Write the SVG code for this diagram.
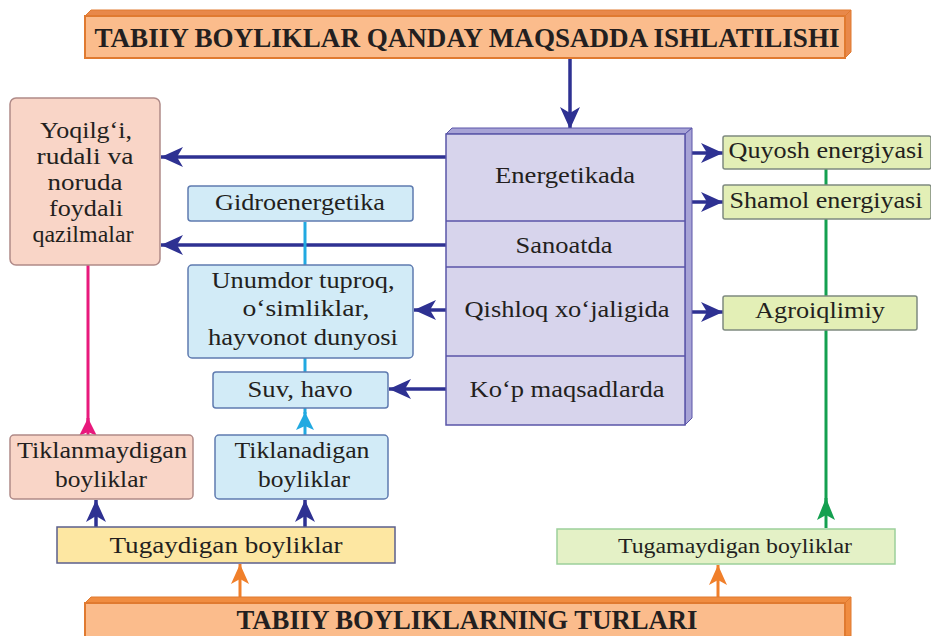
<svg xmlns="http://www.w3.org/2000/svg" width="931" height="636" viewBox="0 0 931 636">
<defs>
<style>
text{font-family:"Liberation Serif","Times New Roman",serif;fill:#231f20;text-anchor:middle;font-size:23px}
.s{font-size:20px}
.h{font-size:28px;font-weight:bold}
.pink{fill:#f9d5c7;stroke:#b08a88;stroke-width:1.5}
.blue{fill:#d2ebf7;stroke:#5f7bb0;stroke-width:1.5}
.green{fill:#e3efb6;stroke:#7f8a80;stroke-width:1.5}
.lg{fill:#e4f1c6;stroke:#9ccf9a;stroke-width:1.5}
.yel{fill:#fde7a2;stroke:#5b5f8c;stroke-width:1.5}
.pur{fill:#d7d4ec;stroke:#5a55a8;stroke-width:1.5}
.ora{fill:#fbbc8c;stroke:#e07a30;stroke-width:2}
.nav{stroke:#2e3192;stroke-width:3.5;fill:none}
</style>
<marker id="an" markerUnits="userSpaceOnUse" markerWidth="22" markerHeight="20" refX="22" refY="10" orient="auto"><path d="M0,0 L22,10 L0,20 L6,10 Z" fill="#2e3192"/></marker>
<marker id="ao" markerUnits="userSpaceOnUse" markerWidth="20" markerHeight="18" refX="20" refY="9" orient="auto"><path d="M0,0 L20,9 L0,18 L5,9 Z" fill="#f07f2a"/></marker>
<marker id="ag" markerUnits="userSpaceOnUse" markerWidth="22" markerHeight="18" refX="22" refY="9" orient="auto"><path d="M0,0 L22,9 L0,18 L5,9 Z" fill="#14a050"/></marker>
<marker id="am" markerUnits="userSpaceOnUse" markerWidth="18" markerHeight="18" refX="18" refY="9" orient="auto"><path d="M0,0 L18,9 L0,18 L4,9 Z" fill="#e8197c"/></marker>
<marker id="ac" markerUnits="userSpaceOnUse" markerWidth="18" markerHeight="18" refX="18" refY="9" orient="auto"><path d="M0,0 L18,9 L0,18 L4,9 Z" fill="#21a9e1"/></marker>
</defs>

<g id="connectors">
<line x1="570" y1="58" x2="570" y2="129" class="nav" marker-end="url(#an)"/>
<line x1="446" y1="157" x2="161" y2="157" class="nav" marker-end="url(#an)"/>
<line x1="446" y1="245" x2="161" y2="245" class="nav" marker-end="url(#an)"/>
<line x1="446" y1="310" x2="414" y2="310" class="nav" marker-end="url(#an)"/>
<line x1="446" y1="389" x2="389" y2="389" class="nav" marker-end="url(#an)"/>
<line x1="690" y1="153" x2="723" y2="153" class="nav" marker-end="url(#an)"/>
<line x1="690" y1="202" x2="723" y2="202" class="nav" marker-end="url(#an)"/>
<line x1="690" y1="312" x2="723" y2="312" class="nav" marker-end="url(#an)"/>
<line x1="96" y1="527" x2="96" y2="500" class="nav" marker-end="url(#an)"/>
<line x1="305" y1="527" x2="305" y2="500" class="nav" marker-end="url(#an)"/>
<line x1="305" y1="222" x2="305" y2="265" stroke="#21a9e1" stroke-width="3"/>
<line x1="305" y1="358" x2="305" y2="372" stroke="#21a9e1" stroke-width="3"/>
<line x1="305" y1="435" x2="305" y2="412" stroke="#21a9e1" stroke-width="3" marker-end="url(#ac)"/>
<line x1="305" y1="414" x2="305" y2="408" stroke="#21a9e1" stroke-width="3"/>
<line x1="88" y1="265" x2="88" y2="425" stroke="#e8197c" stroke-width="3"/>
<line x1="88" y1="435" x2="88" y2="418" stroke="#e8197c" stroke-width="3" marker-end="url(#am)"/>
<line x1="826" y1="169" x2="826" y2="505" stroke="#14a050" stroke-width="3"/>
<line x1="826" y1="528" x2="826" y2="498" stroke="#14a050" stroke-width="3" marker-end="url(#ag)"/>
<line x1="240" y1="597" x2="240" y2="564" stroke="#f07f2a" stroke-width="3" marker-end="url(#ao)"/>
<line x1="718" y1="597" x2="718" y2="565" stroke="#f07f2a" stroke-width="3" marker-end="url(#ao)"/>
</g>

<g id="top">
<polygon points="85,16 91,10 851,10 845,16" fill="#e8884a" stroke="#e07a30" stroke-width="1"/>
<polygon points="845,16 851,10 851,52 845,58" fill="#e8884a" stroke="#e07a30" stroke-width="1"/>
<rect x="85" y="16" width="760" height="42" class="ora"/>
<text x="467" y="47" class="h" textLength="745" lengthAdjust="spacingAndGlyphs">TABIIY BOYLIKLAR  QANDAY MAQSADDA ISHLATILISHI</text>
</g>

<g id="purpose">
<polygon points="446,134 452,128 692,128 685,134" fill="#a7a3d6" stroke="#5a55a8" stroke-width="1"/>
<polygon points="685,134 692,128 692,418 685,425" fill="#a7a3d6" stroke="#5a55a8" stroke-width="1"/>
<rect x="446" y="134" width="239" height="291" class="pur"/>
<line x1="446" y1="221" x2="685" y2="221" stroke="#5a55a8" stroke-width="1.5"/>
<line x1="446" y1="267" x2="685" y2="267" stroke="#5a55a8" stroke-width="1.5"/>
<line x1="446" y1="356" x2="685" y2="356" stroke="#5a55a8" stroke-width="1.5"/>
<text x="565" y="183" textLength="140" lengthAdjust="spacingAndGlyphs">Energetikada</text>
<text x="564" y="253" textLength="97" lengthAdjust="spacingAndGlyphs">Sanoatda</text>
<text x="567" y="317" textLength="205" lengthAdjust="spacingAndGlyphs">Qishloq xo‘jaligida</text>
<text x="567" y="397" textLength="195" lengthAdjust="spacingAndGlyphs">Ko‘p maqsadlarda</text>
</g>

<g id="yoqilgi">
<rect x="10" y="98" width="150" height="167" rx="6" class="pink"/>
<text x="86" y="138" textLength="92" lengthAdjust="spacingAndGlyphs">Yoqilg‘i,</text>
<text x="85" y="164" textLength="97" lengthAdjust="spacingAndGlyphs">rudali va</text>
<text x="85" y="190" textLength="75" lengthAdjust="spacingAndGlyphs">noruda</text>
<text x="86" y="216" textLength="74" lengthAdjust="spacingAndGlyphs">foydali</text>
<text x="83" y="242" textLength="101" lengthAdjust="spacingAndGlyphs">qazilmalar</text>
</g>

<g id="gidro">
<rect x="188" y="186" width="225" height="35" rx="3" class="blue"/>
<text x="300" y="210" textLength="170" lengthAdjust="spacingAndGlyphs">Gidroenergetika</text>
</g>

<g id="unumdor">
<rect x="188" y="265" width="225" height="93" rx="4" class="blue"/>
<text x="303" y="288" textLength="183" lengthAdjust="spacingAndGlyphs">Unumdor tuproq,</text>
<text x="306" y="316" textLength="127" lengthAdjust="spacingAndGlyphs">o‘simliklar,</text>
<text x="303" y="345" textLength="190" lengthAdjust="spacingAndGlyphs">hayvonot dunyosi</text>
</g>

<g id="suv">
<rect x="213" y="372" width="175" height="36" rx="3" class="blue"/>
<text x="300" y="397" textLength="105" lengthAdjust="spacingAndGlyphs">Suv, havo</text>
</g>

<g id="tiklanadigan">
<rect x="215" y="435" width="173" height="64" rx="4" class="blue"/>
<text x="302" y="458" textLength="135" lengthAdjust="spacingAndGlyphs">Tiklanadigan</text>
<text x="304" y="487" textLength="92" lengthAdjust="spacingAndGlyphs">boyliklar</text>
</g>

<g id="tiklanmaydigan">
<rect x="10" y="435" width="183" height="64" rx="4" class="pink"/>
<text x="102" y="458" textLength="170" lengthAdjust="spacingAndGlyphs">Tiklanmaydigan</text>
<text x="101" y="487" textLength="92" lengthAdjust="spacingAndGlyphs">boyliklar</text>
</g>

<g id="tugaydigan">
<rect x="57" y="527" width="338" height="36" class="yel"/>
<text x="226" y="553" textLength="233" lengthAdjust="spacingAndGlyphs">Tugaydigan  boyliklar</text>
</g>

<g id="quyosh">
<rect x="723" y="136" width="208" height="33" rx="2" class="green"/>
<text x="826" y="158" textLength="195" lengthAdjust="spacingAndGlyphs">Quyosh energiyasi</text>
</g>

<g id="shamol">
<rect x="723" y="185" width="208" height="34" rx="2" class="green"/>
<text x="826" y="208" textLength="193" lengthAdjust="spacingAndGlyphs">Shamol energiyasi</text>
</g>

<g id="agro">
<rect x="723" y="296" width="194" height="34" rx="2" class="green"/>
<text x="820" y="318" textLength="130" lengthAdjust="spacingAndGlyphs">Agroiqlimiy</text>
</g>

<g id="tugamaydigan">
<rect x="557" y="529" width="338" height="35" class="lg"/>
<text x="735" y="553" class="s" textLength="234" lengthAdjust="spacingAndGlyphs">Tugamaydigan  boyliklar</text>
</g>

<g id="bottom">
<polygon points="85,603 91,597 851,597 845,603" fill="#f08c40" stroke="#e07a30" stroke-width="1"/>
<polygon points="845,603 851,597 851,636 845,636" fill="#f08c40" stroke="#e07a30" stroke-width="1"/>
<rect x="85" y="603" width="760" height="40" class="ora"/>
<text x="467" y="629" class="h" textLength="461" lengthAdjust="spacingAndGlyphs">TABIIY BOYLIKLARNING TURLARI</text>
</g>
</svg>
